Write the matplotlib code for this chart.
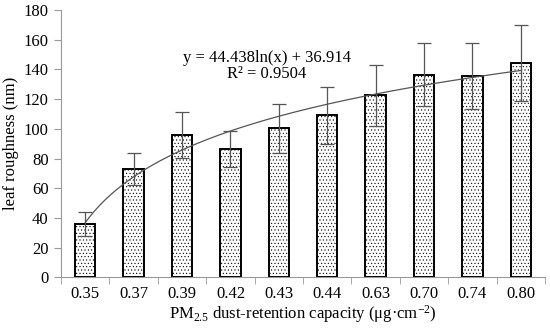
import numpy as np
import matplotlib.pyplot as plt
import matplotlib as mpl

plt.rcParams['font.family'] = ['Liberation Serif', 'DejaVu Serif']
plt.rcParams['mathtext.fontset'] = 'custom'
plt.rcParams['mathtext.rm'] = 'Liberation Serif'
plt.rcParams['mathtext.it'] = 'Liberation Serif:italic'
mpl.rcParams['hatch.color'] = '#c4c4c4'
mpl.rcParams['hatch.linewidth'] = 0.4

capacity = ['0.35', '0.37', '0.39', '0.42', '0.43', '0.44', '0.63', '0.70', '0.74', '0.80']
roughness = [36, 73, 96, 86.5, 100.5, 109, 122.5, 136.5, 135.5, 144]
err = [8, 10.5, 15.5, 12, 16.5, 19, 20.5, 21.5, 22.5, 25.5]

# log trendline reported on the chart: y = a ln(x) + b, x = category index
a, b = 44.438, 36.914

fig = plt.figure(figsize=(5.5, 3.28), dpi=100)
ax = fig.add_axes([0.111, 0.154, 0.880, 0.816])

x = np.arange(1, len(capacity) + 1)
ax.bar(x, roughness, width=0.42, color='white', edgecolor='black', linewidth=1.4,
       hatch='.....', zorder=2)
ax.errorbar(x, roughness, yerr=err, fmt='none', ecolor='#555555', elinewidth=0.9,
            capsize=5, capthick=0.9, zorder=3)

xt = np.linspace(1, 10, 200)
ax.plot(xt, a * np.log(xt) + b, color='#555555', linewidth=0.9, zorder=4)

ax.text(0.425, 0.79, 'y = 44.438ln(x) + 36.914\nR² = 0.9504', transform=ax.transAxes,
        ha='center', va='center', fontsize=12, linespacing=1.0)

ax.set_xlim(0.5, 10.5)
ax.set_ylim(0, 180)
ax.set_yticks(range(0, 181, 20))
ax.set_xticks(x)
ax.set_xticklabels(capacity)
ax.set_xticks(np.arange(0.5, 10.6, 1), minor=True)
ax.tick_params(axis='x', which='major', length=0, pad=6, labelsize=12)
ax.tick_params(axis='x', which='minor', length=5, color='#999999')
ax.tick_params(axis='y', length=5, color='#999999', labelsize=12, pad=4)

for s in ['top', 'right']:
    ax.spines[s].set_visible(False)
for s in ['left', 'bottom']:
    ax.spines[s].set_color('#999999')

ax.set_ylabel('leaf roughness (nm)', fontsize=12, labelpad=3)
ax.set_xlabel(r'PM$_{\mathrm{2.5}}$ dust-retention capacity (μg·cm$^{\mathrm{−2}}$)',
              fontsize=12, labelpad=1)

fig.savefig('out.png', dpi=100)
